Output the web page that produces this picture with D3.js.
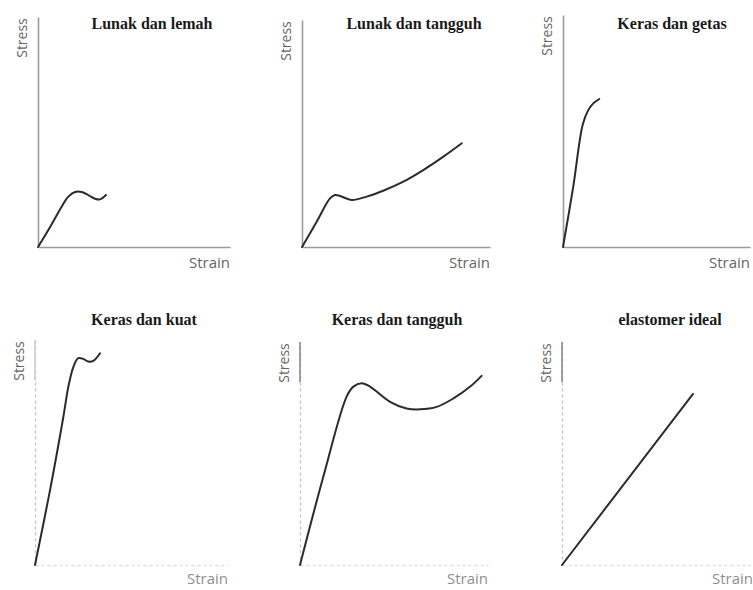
<!DOCTYPE html>
<html>
<head>
<meta charset="utf-8">
<script src="https://cdn.jsdelivr.net/npm/d3@7"></script>
<style>
  html, body { margin: 0; padding: 0; background: #fff; }
  svg { display: block; }
  .title { font-family: "Liberation Serif", "Times New Roman", serif; font-weight: bold; font-size: 16px; fill: #1a1a1a; }
  .ylab { font-family: "Open Sans", "DejaVu Sans", sans-serif; font-size: 14px; fill: #666; }
  .xlab { font-family: "Open Sans", "DejaVu Sans", sans-serif; font-size: 15px; fill: #666; }
</style>
</head>
<body>
<svg id="chart" width="753" height="590"></svg>
<script>
// ---- data (arbitrary units: strain 0-100, stress 0-100 per panel) ----
const titles = ["Lunak dan lemah", "Lunak dan tangguh", "Keras dan getas",
                "Keras dan kuat", "Keras dan tangguh", "elastomer ideal"];
const yLabel = "Stress";
const xLabel = "Strain";

const lunakLemah = [[0,0],[6.4,8.8],[12.3,17.5],[15.8,21.9],[19.3,23.9],[22.8,23.9],
                    [26.2,22.6],[29.7,21],[32.3,20.7],[35.4,22.6]];
const lunakTangguh = [[0,0],[7.8,11.1],[14.9,21.4],[17.6,22.9],[20.2,22.5],[26.4,20.7],
                      [34.4,22.2],[43.2,24.8],[53.9,28.8],[64.5,33.9],[75.2,39.8],[85,45.7]];
const kerasGetas = [[0,0],[5.5,26.1],[10.5,52.6],[13.5,59],[16.2,61.9],[19.4,63.8]];
const kerasKuat = [[0,0],[7.8,33.3],[14.7,65.9],[17.3,79.3],[19.9,88.1],[22.4,91.9],
                   [25,91.6],[27.6,90.4],[30.2,90.7],[33.7,94.1]];
const kerasTangguh = [[0,0],[12.4,39.6],[24.8,75.5],[28.4,80],[32.8,81.5],[37.2,80],
                      [47.9,73.2],[56.7,70.2],[63.8,69.8],[72.7,70.9],[81.6,74.7],
                      [90.4,79.9],[96.6,84.8]];
const elastomerIdeal = [[0,0],[68.6,76.7]];

const curves = [lunakLemah, lunakTangguh, kerasGetas, kerasKuat, kerasTangguh, elastomerIdeal];

// ---- layout (pixel boxes of each panel's axes) ----
const layout = [
  {x0: 38,  x1: 230, y0: 247, y1: 17,  tx: 152, ty: 29,  faint: false},
  {x0: 302, x1: 490, y0: 247, y1: 20,  tx: 414, ty: 29,  faint: false},
  {x0: 563, x1: 750, y0: 247, y1: 15,  tx: 672, ty: 29,  faint: false},
  {x0: 35,  x1: 228, y0: 565, y1: 340, tx: 144, ty: 325, faint: true},
  {x0: 300, x1: 488, y0: 565, y1: 342, tx: 397, ty: 325, faint: true},
  {x0: 562, x1: 753, y0: 565, y1: 342, tx: 670, ty: 325, faint: true}
];

const svg = d3.select("#chart");

titles.forEach((t, i) => {
  const L = layout[i];
  const g = svg.append("g");
  const x = d3.scaleLinear().domain([0, 100]).range([L.x0, L.x1]);
  const y = d3.scaleLinear().domain([0, 100]).range([L.y0, L.y1]);

  // axes (no ticks)
  const ax = g.append("g").attr("transform", `translate(0,${L.y0})`)
    .call(d3.axisBottom(x).tickValues([]).tickSizeOuter(0));
  const ay = g.append("g").attr("transform", `translate(${L.x0},0)`)
    .call(d3.axisLeft(y).tickValues([]).tickSizeOuter(0));
  [ax, ay].forEach(a => a.select(".domain")
      .attr("stroke", L.faint ? "#c4c4c4" : "#9a9a9a")
      .attr("stroke-width", L.faint ? 1.3 : 1.6)
      .attr("stroke-dasharray", L.faint ? "3,3" : null));
  if (L.faint) {
    ax.select(".domain").attr("stroke", "#dedede");
    // darker top section of y axis
    g.append("line")
      .attr("x1", L.x0).attr("x2", L.x0)
      .attr("y1", y(100)).attr("y2", y(82))
      .attr("stroke", i === 3 ? "#cfcfcf" : "#8a8a8a").attr("stroke-width", 1.6);
  }

  // curve
  g.append("path")
    .datum(curves[i])
    .attr("fill", "none")
    .attr("stroke", "#2b2b2b")
    .attr("stroke-width", 2)
    .attr("stroke-linecap", "round")
    .attr("stroke-linejoin", "round")
    .attr("d", d3.line().x(d => x(d[0])).y(d => y(d[1])).curve(d3.curveCatmullRom.alpha(0.5)));

  // title
  g.append("text").attr("class", "title")
    .attr("x", L.tx).attr("y", L.ty).attr("text-anchor", "middle").text(t);

  // axis labels
  g.append("text").attr("class", "ylab")
    .attr("transform", `translate(${L.x0 - 11},${L.y1 + 21}) rotate(-90)`)
    .attr("text-anchor", "middle").text(yLabel);
  g.append("text").attr("class", "xlab")
    .attr("x", L.x1).attr("y", L.y0 + (L.faint ? 19 : 21))
    .attr("text-anchor", "end")
    .attr("fill-opacity", L.faint ? 0.75 : 1)
    .text(xLabel);
});
</script>
</body>
</html>
